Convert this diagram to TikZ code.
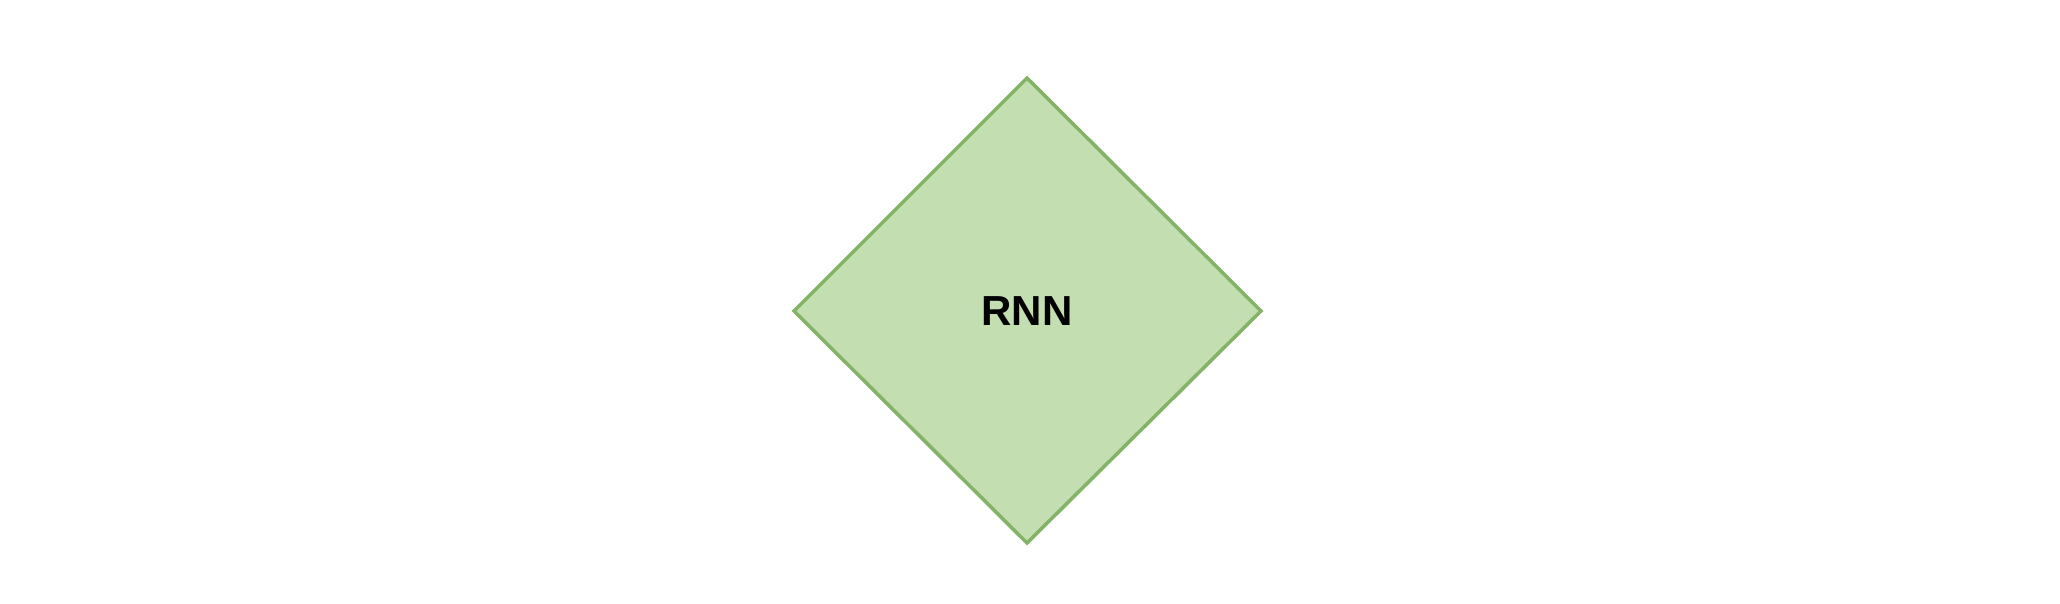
\documentclass[tikz,border=0pt]{standalone}
\usepackage{fontspec}
\setmainfont{Liberation Sans}
\definecolor{dfill}{HTML}{C3DEB0}
\definecolor{dline}{HTML}{82B366}
\tikzset{diam/.style={fill=dfill,draw=dline,line width=3.5pt,line join=miter}}
\begin{document}
\begin{tikzpicture}[x=1pt,y=-1pt]
\useasboundingbox (0,0) rectangle (2060,603);
\coordinate (t) at (1027,78);
\coordinate (r) at (1261,311);
\coordinate (b) at (1027,543);
\coordinate (l) at (794,311);
\draw[diam] (t) -- (r) -- (b) -- (l) -- cycle;
\node[font=\fontsize{42}{48}\selectfont\bfseries] (lab) at (1027,311) {RNN};
\end{tikzpicture}
\end{document}
